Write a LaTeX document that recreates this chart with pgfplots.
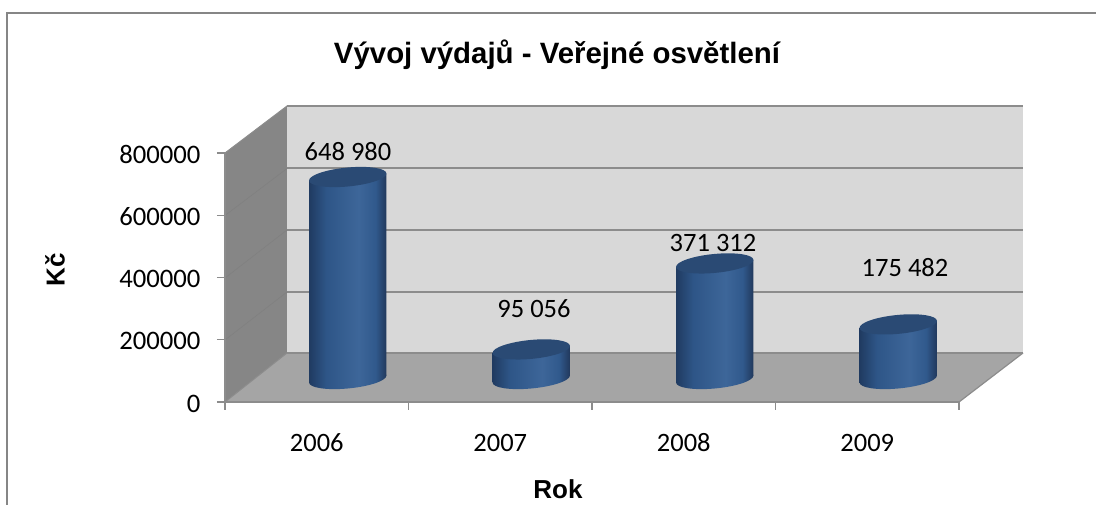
\documentclass[border=0pt]{standalone}
\usepackage{pgfplots}
\usepackage{pgfplotstable}
\usepackage{fontspec}
\setmainfont{Carlito}
\newfontfamily\arialb{Liberation Sans}
\pgfplotsset{compat=1.18}
\pgfplotstableread{
idx value base
0 648980 0
1 95056 0
2 371312 0
3 175482 0
}\costs
\definecolor{wallL}{HTML}{868686}
\definecolor{wallB}{HTML}{D8D8D8}
\definecolor{floorC}{HTML}{A5A5A5}
\definecolor{gridC}{HTML}{8C8C8C}
\definecolor{topC}{HTML}{2A4A74}
\pgfdeclarehorizontalshading{cyl}{100bp}{
 rgb(0bp)=(0.125,0.23,0.38);
 rgb(25bp)=(0.125,0.23,0.38);
 rgb(36bp)=(0.18,0.335,0.53);
 rgb(57bp)=(0.24,0.40,0.60);
 rgb(68bp)=(0.19,0.35,0.55);
 rgb(75bp)=(0.13,0.22,0.36);
 rgb(100bp)=(0.13,0.22,0.36)}
\pgfdeclareplotmark{cyltop}{%
  \pgfsetfillcolor{topC}%
  \pgfpathellipse{\pgfpointorigin}{\pgfqpoint{38.7pt}{3.48pt}}{\pgfqpoint{0pt}{9.5pt}}%
  \pgfusepath{fill}}
\pgfdeclareplotmark{cylbot}{%
  \pgfpathellipse{\pgfpointorigin}{\pgfqpoint{38.7pt}{3.48pt}}{\pgfqpoint{0pt}{9.5pt}}%
  \pgfshadepath{cyl}{0}%
  \pgfusepath{discard}}
\begin{document}
\begin{tikzpicture}[x=1pt,y=1pt]
\useasboundingbox (-225,-103) rectangle (871,402);
% frame
\draw[wallL,line width=2pt] (-218,-103) -- (-218,389) -- (871,389);
% walls
\fill[wallB] (62,49) rectangle (798,296);
\fill[wallL] (0,0) -- (62,49) -- (62,296) -- (0,249) -- cycle;
\fill[floorC] (0,0) -- (734,0) -- (798,49) -- (62,49) -- cycle;
% grid
\foreach \yy in {49,110,172,233.5,296}{
  \draw[gridC,line width=2pt] (62,\yy) -- (798,\yy);}
\foreach \yy/\zz in {110/62,172/124,233.5/186.5}{
  \draw[black!50,line width=0.6pt] (0,\zz) -- (62,\yy);}
\draw[gridC,line width=1pt] (0,249) -- (62,296);
\draw[gridC,line width=1pt] (0,0) -- (62,49);
\draw[gridC,line width=1.2pt] (734,0) -- (798,49);
\begin{axis}[
  at={(0,0)},anchor=south west,
  scale only axis,width=734pt,height=249pt,
  xmin=-0.5,xmax=3.5,ymin=0,ymax=800000,
  clip=false,
  axis lines=left,axis line style={-,gridC,line width=1.5pt},
  xtick={0,1,2,3},xticklabels={2006,2007,2008,2009},
  minor xtick={-0.5,0.5,1.5,2.5,3.5},
  ytick={0,200000,400000,600000,800000},
  scaled y ticks=false,
  tick align=outside,
  major tick length=8pt,minor tick length=8pt,
  major x tick style={draw=none},
  minor x tick style={gridC,line width=1.2pt},
  major y tick style={gridC,line width=1.2pt},
  y tick label style={/pgf/number format/fixed,/pgf/number format/1000 sep={},/pgf/number format/assume math mode=true,font=\fontsize{26.7}{30}\selectfont,xshift=-13pt,yshift=-1.5pt},
  x tick label style={font=\fontsize{26.5}{30}\selectfont,anchor=base,yshift=-42pt},
]
\addplot[only marks,mark=cylbot,xshift=31pt,yshift=23pt] table[x=idx,y=base]{\costs};
\addplot[ybar,bar width=77.4pt,draw=none,shading=cyl,xshift=31pt,yshift=14.74pt,yslant=0.09] coordinates {(0,648980)};
\addplot[ybar,bar width=77.4pt,draw=none,shading=cyl,xshift=31pt,yshift=-1.77pt,yslant=0.09] coordinates {(1,95056)};
\addplot[ybar,bar width=77.4pt,draw=none,shading=cyl,xshift=31pt,yshift=-18.29pt,yslant=0.09] coordinates {(2,371312)};
\addplot[ybar,bar width=77.4pt,draw=none,shading=cyl,xshift=31pt,yshift=-34.8pt,yslant=0.09] coordinates {(3,175482)};
\addplot[only marks,mark=cyltop,xshift=31pt,yshift=23pt] table[x=idx,y=value]{\costs};
\end{axis}
\tikzset{lab/.style={font=\fontsize{26.5}{30}\selectfont,inner sep=0pt}}
\node[lab] at (123,250) {648 980};
\node[lab] at (309,93) {95 056};
\node[lab] at (488,159) {371 312};
\node[lab] at (680,134) {175 482};
\node[font=\fontsize{29.4}{32}\selectfont\arialb\bfseries] at (332,347) {Vývoj výdajů - Veřejné osvětlení};
\node[font=\fontsize{26}{30}\selectfont\arialb\bfseries] at (333,-87) {Rok};
\node[rotate=90,font=\fontsize{26}{30}\selectfont\arialb\bfseries] at (-170,132) {Kč};
\end{tikzpicture}
\end{document}
